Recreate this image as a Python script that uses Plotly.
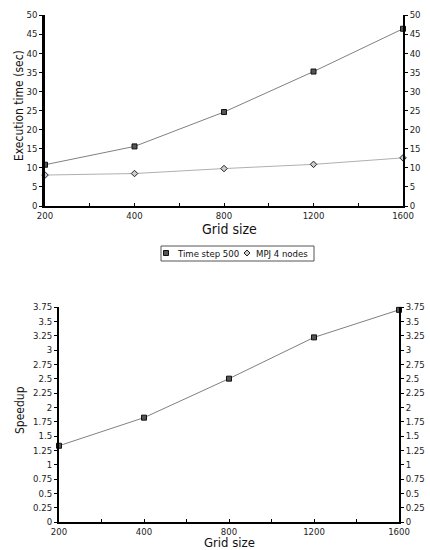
import plotly.graph_objects as go

categories = ["200", "400", "800", "1200", "1600"]
time_step_500 = [10.8, 15.6, 24.6, 35.2, 46.4]
mpj_4_nodes = [8.1, 8.5, 9.8, 10.9, 12.6]
speedup = [1.33, 1.82, 2.5, 3.22, 3.7]
series_names = ["Time step 500", "MPJ 4 nodes"]

top_ticks = [0, 5, 10, 15, 20, 25, 30, 35, 40, 45, 50]
bot_ticks = [0, 0.25, 0.5, 0.75, 1, 1.25, 1.5, 1.75, 2, 2.25, 2.5, 2.75, 3, 3.25, 3.5, 3.75]
bot_labels = ["0", "0.25", "0.5", "0.75", "1", "1.25", "1.5", "1.75", "2", "2.25", "2.5", "2.75", "3", "3.25", "3.5", "3.75"]

W, H = 430, 550
xpos = list(range(len(categories)))
FONT = "DejaVu Sans Condensed, DejaVu Sans"


def px(x):
    return x / W


def py(y):
    return 1 - y / H


sq_marker = dict(symbol="square", size=5, color="#555555", line=dict(color="#111111", width=1))
dia_marker = dict(symbol="diamond", size=5, color="#cccccc", line=dict(color="#222222", width=1))

fig = go.Figure()
fig.add_trace(go.Scatter(x=xpos, y=time_step_500, mode="lines+markers", name=series_names[0], showlegend=False,
                         line=dict(color="#808080", width=1), marker=sq_marker, cliponaxis=False,
                         xaxis="x", yaxis="y"))
fig.add_trace(go.Scatter(x=xpos, y=mpj_4_nodes, mode="lines+markers", name=series_names[1], showlegend=False,
                         line=dict(color="#b0b0b0", width=1), marker=dia_marker, cliponaxis=False,
                         xaxis="x", yaxis="y"))
# right-side mirror axes need a trace to be drawn
fig.add_trace(go.Scatter(x=xpos, y=time_step_500, mode="markers", showlegend=False, hoverinfo="skip",
                         marker=dict(opacity=0), xaxis="x", yaxis="y2"))
fig.add_trace(go.Scatter(x=xpos, y=speedup, mode="lines+markers", name="Speedup", showlegend=False,
                         line=dict(color="#808080", width=1), marker=sq_marker, cliponaxis=False,
                         xaxis="x2", yaxis="y3"))
fig.add_trace(go.Scatter(x=xpos, y=speedup, mode="markers", showlegend=False, hoverinfo="skip",
                         marker=dict(opacity=0), xaxis="x2", yaxis="y4"))

tickfont = dict(family=FONT, size=9.5, color="#222222")
xtitlefont = dict(family=FONT, size=14, color="#111111")
ytitlefont = dict(family=FONT, size=12, color="#111111")

xcommon = dict(tickmode="array", tickvals=xpos, ticktext=categories, range=[0, 4], automargin=False,
               showline=True, linecolor="black", linewidth=2, ticks="inside", ticklen=3,
               tickcolor="black", showgrid=False, zeroline=False, tickfont=tickfont,
               minor=dict(tickmode="array", tickvals=[0.5, 1.5, 2.5, 3.5], ticks="inside", ticklen=3, tickcolor="black"))

ycommon = dict(showline=True, linecolor="black", ticks="outside", ticklen=3, automargin=False,
               tickcolor="black", showgrid=False, zeroline=False, tickfont=tickfont)

fig.update_layout(
    width=W, height=H, margin=dict(l=0, r=0, t=0, b=0),
    paper_bgcolor="white", plot_bgcolor="white",
    font=dict(family=FONT),
    showlegend=False,
    xaxis=dict(domain=[px(45), px(403)], anchor="y", **xcommon),
    yaxis=dict(domain=[py(206), py(15)], anchor="x", range=[0, 50], tickvals=top_ticks, linewidth=2.5, **ycommon),
    yaxis2=dict(overlaying="y", side="right", anchor="x", range=[0, 50], tickvals=top_ticks, linewidth=1.5, **ycommon),
    xaxis2=dict(domain=[px(59), px(399)], anchor="y3", **xcommon),
    yaxis3=dict(domain=[py(522), py(307)], anchor="x2", range=[0, 3.75], tickvals=bot_ticks, ticktext=bot_labels,
                linewidth=2, **ycommon),
    yaxis4=dict(overlaying="y3", side="right", anchor="x2", range=[0, 3.75], tickvals=bot_ticks, ticktext=bot_labels,
                linewidth=1.5, **ycommon),
)

# axis titles
fig.add_annotation(text="Grid size", x=px(230), y=py(229), xref="paper", yref="paper", showarrow=False,
                   font=xtitlefont, xanchor="center", yanchor="middle")
fig.add_annotation(text="Grid size", x=px(229), y=py(542), xref="paper", yref="paper", showarrow=False,
                   font=dict(family=FONT, size=13, color="#111111"), xanchor="center", yanchor="middle",
                   borderpad=0)
fig.add_annotation(text="Execution time (sec)", x=px(19), y=py(106), xref="paper", yref="paper", showarrow=False,
                   font=ytitlefont, textangle=-90, xanchor="center", yanchor="middle")
fig.add_annotation(text="Speedup", x=px(20), y=py(410), xref="paper", yref="paper", showarrow=False,
                   font=ytitlefont, textangle=-90, xanchor="center", yanchor="middle")

# compact legend box (as in the reference)
legfont = dict(family=FONT, size=9.5, color="#111111")
fig.add_shape(type="rect", xref="paper", yref="paper", x0=px(161), x1=px(314), y0=py(261), y1=py(246),
              line=dict(color="#555555", width=1), fillcolor="white")
fig.add_shape(type="rect", xref="paper", yref="paper", x0=px(163.5), x1=px(168.5), y0=py(255.5), y1=py(250.5),
              line=dict(color="#111111", width=1), fillcolor="#555555")
fig.add_shape(type="path", xref="paper", yref="paper",
              path=f"M {px(247)} {py(250)} L {px(250)} {py(253)} L {px(247)} {py(256)} L {px(244)} {py(253)} Z",
              line=dict(color="#222222", width=1), fillcolor="#cccccc")
fig.add_annotation(text=series_names[0], x=px(175), y=py(253.5), xref="paper", yref="paper", showarrow=False,
                   font=legfont, xanchor="left", yanchor="middle")
fig.add_annotation(text=series_names[1], x=px(254), y=py(253.5), xref="paper", yref="paper", showarrow=False,
                   font=legfont, xanchor="left", yanchor="middle")

fig.write_html("out.html")
